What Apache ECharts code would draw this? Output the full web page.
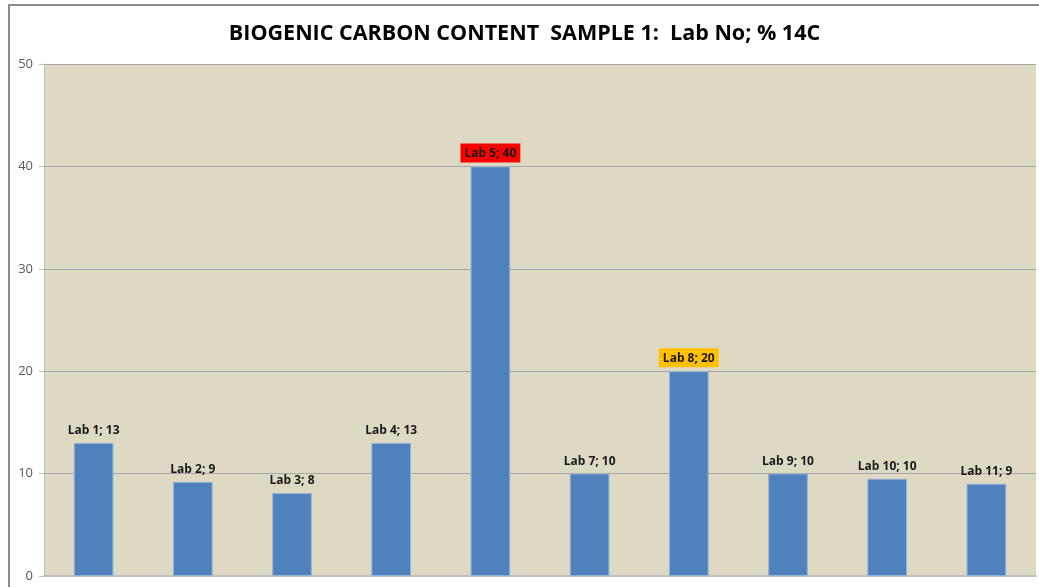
<!DOCTYPE html>
<html>
<head>
<meta charset="utf-8">
<script src="https://cdn.jsdelivr.net/npm/echarts@6/dist/echarts.min.js"></script>
<style>
  html, body { margin: 0; padding: 0; background: #fff; }
  #chart {
    position: absolute; left: 8px; top: 4px; width: 1031px; height: 583px;
    border-left: 2px solid #8c8c8c; border-top: 2px solid #8c8c8c; box-sizing: border-box;
  }
</style>
</head>
<body>
<div id="chart"></div>
<script>
  // lab names and % 14C values (Lab 6 missing in source)
  const labs = ["Lab 1", "Lab 2", "Lab 3", "Lab 4", "Lab 5", "Lab 7", "Lab 8", "Lab 9", "Lab 10", "Lab 11"];
  const values = [13, 9.2, 8.1, 13, 40, 10, 20, 10, 9.5, 9];
  const y_ticks = [0, 10, 20, 30, 40, 50];

  // highlighted labels
  const highlight = { "Lab 5": "#ff0000", "Lab 8": "#ffc000" };

  const chart = echarts.init(document.getElementById("chart"));

  const bar_data = labs.map((name, i) => {
    const item = { value: values[i] };
    if (highlight[name]) {
      item.label = { backgroundColor: highlight[name], padding: [4, 4, 3, 4], distance: 4 };
    }
    return item;
  });

  chart.setOption({
    backgroundColor: "#fff",
    title: {
      text: "BIOGENIC CARBON CONTENT  SAMPLE 1:  Lab No; % 14C",
      left: "center",
      top: 12,
      textStyle: { fontFamily: "Open Sans", fontWeight: "bold", fontSize: 21.5, color: "#000" },
    },
    grid: { left: 34, right: 3, top: 58, bottom: 11 },
    xAxis: {
      type: "category",
      data: labs,
      axisLine: { show: true, lineStyle: { color: "#bfbfbf", width: 2 } },
      axisTick: { show: false },
      axisLabel: { show: false },
    },
    yAxis: {
      type: "value",
      min: 0,
      max: 50,
      interval: 10,
      axisLine: { show: true, lineStyle: { color: "#bfbfbf", width: 1 } },
      axisTick: { show: true, length: 5, lineStyle: { color: "#bfbfbf" } },
      axisLabel: {
        margin: 11,
        color: "#595959",
        fontFamily: "Open Sans",
        fontSize: 13,
        formatter: (v) => (y_ticks.includes(v) ? String(v) : ""),
      },
      splitLine: { lineStyle: { color: "#a6a6a6", width: 1 } },
      splitArea: { show: true, areaStyle: { color: ["#ddd9c3", "#ddd9c3"] } },
    },
    series: [
      {
        type: "bar",
        data: bar_data,
        barWidth: "40%",
        itemStyle: { color: "#4f81bd", borderColor: "#95b3d7", borderWidth: 1 },
        label: {
          show: true,
          position: "top",
          distance: 6,
          color: "#1a1a1a",
          fontFamily: "Open Sans",
          fontWeight: "bold",
          fontSize: 12,
          formatter: (p) => `${p.name}; ${Math.round(p.value)}`,
        },
      },
    ],
    animation: false,
  });

  window.addEventListener("resize", chart.resize);
</script>
</body>
</html>
